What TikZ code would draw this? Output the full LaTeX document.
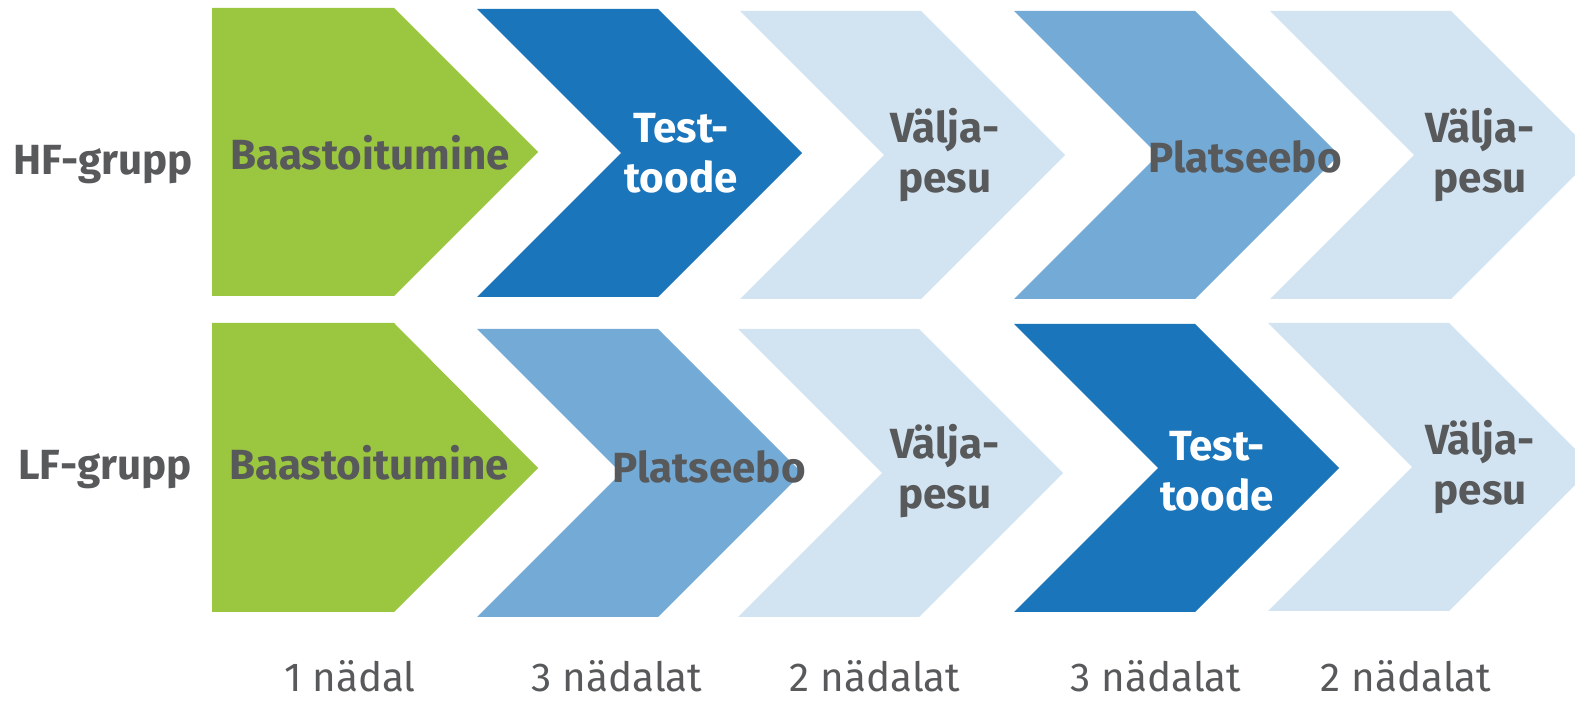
\documentclass[tikz,border=0pt]{standalone}
\usepackage{fontspec}
\setmainfont{Fira Sans}
\usepackage{xcolor}
\usepackage{tikz}
\definecolor{basegreen}{RGB}{155,198,63}
\definecolor{testblue}{RGB}{27,117,187}
\definecolor{placblue}{RGB}{116,170,214}
\definecolor{washblue}{RGB}{210,227,241}
\definecolor{labelgray}{RGB}{88,89,91}
\tikzset{
  phase/.style={font=\fontsize{24}{29}\selectfont\bfseries, text=labelgray, align=center, anchor=base, inner sep=0pt},
  weeks/.style={font=\fontsize{23}{29}\selectfont, text=labelgray, anchor=base, inner sep=0pt}
}
\begin{document}
\begin{tikzpicture}[x=0.02cm,y=-0.02cm]
      \clip (0,0) rectangle (1575,715);
      % HF-grupp
      \fill[basegreen] (212,8) -- (394,8) -- (538,152) -- (394,296) -- (212,296) -- cycle;
      \fill[testblue] (477,9) -- (658,9) -- (802,153) -- (658,297) -- (477,297) -- (621,153) -- cycle;
      \fill[washblue] (740,11) -- (921,11) -- (1065,155) -- (921,299) -- (740,299) -- (884,155) -- cycle;
      \fill[placblue] (1014,11) -- (1195,11) -- (1339,155) -- (1195,299) -- (1014,299) -- (1158,155) -- cycle;
      \fill[washblue] (1270,11) -- (1451,11) -- (1595,155) -- (1451,299) -- (1270,299) -- (1414,155) -- cycle;
      % LF-grupp
      \fill[basegreen] (212,323) -- (394,323) -- (538,468) -- (394,612) -- (212,612) -- cycle;
      \fill[placblue] (477,329) -- (658,329) -- (802,473) -- (658,617) -- (477,617) -- (621,473) -- cycle;
      \fill[washblue] (738,329) -- (919,329) -- (1063,473) -- (919,617) -- (738,617) -- (882,473) -- cycle;
      \fill[testblue] (1014,324) -- (1195,324) -- (1339,468) -- (1195,612) -- (1014,612) -- (1158,468) -- cycle;
      \fill[washblue] (1268,323) -- (1449,323) -- (1593,467) -- (1449,611) -- (1268,611) -- (1412,467) -- cycle;

      \node[phase] (hf) at (103,175) {HF-grupp};
      \node[phase] (lf) at (105,480) {LF-grupp};

      \node[phase] (hfbase) at (370,170) {Baastoitumine};
      \node[phase, text=white] (hftest) at (681,193) {Test-\\toode};
      \node[phase] (hfwash) at (945,193) {Välja-\\pesu};
      \node[phase] (hfplac) at (1245,173) {Platseebo};
      \node[phase] (hfwashb) at (1480,193) {Välja-\\pesu};

      \node[phase] (lfbase) at (369,480) {Baastoitumine};
      \node[phase] (lfplac) at (709,483) {Platseebo};
      \node[phase] (lfwash) at (945,509) {Välja-\\pesu};
      \node[phase, text=white] (lftest) at (1217,511) {Test-\\toode};
      \node[phase] (lfwashb) at (1480,505) {Välja-\\pesu};

      \node[weeks] (wk1) at (350,691) {1 nädal};
      \node[weeks] (wk2) at (617,691) {3 nädalat};
      \node[weeks] (wk3) at (875,691) {2 nädalat};
      \node[weeks] (wk4) at (1156,691) {3 nädalat};
      \node[weeks] (wk5) at (1406,691) {2 nädalat};
    \end{tikzpicture}
\end{document}
